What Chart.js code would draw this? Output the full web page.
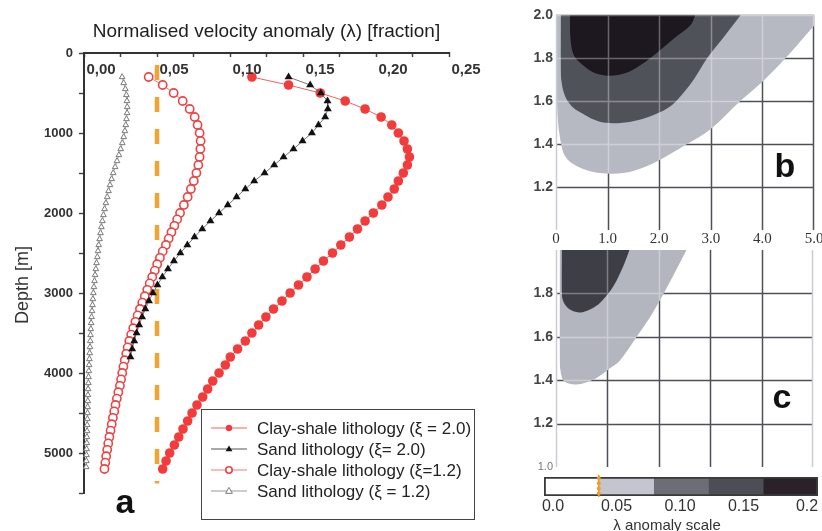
<!DOCTYPE html>
<html>
<head>
<meta charset="utf-8">
<script src="https://cdn.jsdelivr.net/npm/chart.js@4.4.1/dist/chart.umd.min.js"></script>
<style>
  html, body { margin: 0; padding: 0; background: #fff; }
  #wrap { position: relative; width: 822px; height: 531px; overflow: hidden; background: #fff; }
  canvas { position: absolute; }
</style>
</head>
<body>
<div id="wrap">
  <canvas id="profile" width="500" height="531" style="left:0;top:0;width:500px;height:531px"></canvas>
  <canvas id="mapClay" width="307" height="245" style="left:515px;top:0;width:307px;height:245px"></canvas>
  <canvas id="mapSand" width="307" height="230" style="left:515px;top:245px;width:307px;height:230px"></canvas>
  <canvas id="scaleBar" width="307" height="61" style="left:515px;top:470px;width:307px;height:61px"></canvas>
</div>
<script>
const SANS = "'Liberation Sans', Arial, Helvetica, sans-serif";
const SERIF = "'Liberation Serif', 'Times New Roman', serif";
Chart.defaults.font.family = SANS;
Chart.defaults.color = '#333';
Chart.defaults.animation = false;

/* ---------- (a) velocity anomaly profiles: depth [m] vs lambda ---------- */
const depthClayXi20 = [300,400,500,600,700,800,900,1000,1100,1200,1300,1400,1500,1600,1700,1800,1900,2000,
  2100,2200,2300,2400,2500,2600,2700,2800,2900,3000,3100,3200,3300,3400,3500,3600,3700,3800,3900,4000,
  4100,4200,4300,4400,4500,4600,4700,4800,4900,5000,5100,5200];
const clayXi20 = [0.1150,0.1401,0.1618,0.1789,0.1925,0.2035,0.2108,0.2153,0.2192,0.2215,0.2229,0.2215,0.2187,
  0.2153,0.2125,0.2082,0.2040,0.1982,0.1925,0.1873,0.1818,0.1759,0.1702,0.1640,0.1583,0.1527,0.1469,0.1412,
  0.1356,0.1298,0.1246,0.1196,0.1150,0.1105,0.1052,0.1002,0.0968,0.0925,0.0882,0.0847,0.0813,0.0774,0.0740,
  0.0710,0.0678,0.0649,0.0619,0.0587,0.0562,0.0539];

const depthSandXi20 = [300,400,500,600,700,800,900,1000,1100,1200,1300,1400,1500,1600,1700,1800,1900,2000,
  2100,2200,2300,2400,2500,2600,2700,2800,2900,3000,3100,3200,3300,3400,3500,3600,3700,3800];
const sandXi20 = [0.1401,0.1549,0.1622,0.1668,0.1670,0.1652,0.1606,0.1561,0.1497,0.1435,0.1367,0.1303,0.1237,
  0.1166,0.1105,0.1045,0.0985,0.0925,0.0866,0.0810,0.0757,0.0708,0.0660,0.0616,0.0575,0.0537,0.0503,0.0472,
  0.0445,0.0420,0.0398,0.0378,0.0360,0.0344,0.0330,0.0318];

const depthClayXi12 = [300,400,500,600,700,800,900,1000,1100,1200,1300,1400,1500,1600,1700,1800,1900,2000,
  2080,2160,2240,2320,2400,2480,2560,2640,2720,2800,2880,2960,3040,3120,3200,3280,3360,3440,3520,3600,3680,
  3760,3840,3920,4000,4080,4160,4240,4320,4400,4480,4560,4640,4720,4800,4880,4960,5040,5120,5200];
const clayXi12 = [0.0443,0.0539,0.0614,0.0676,0.0724,0.0758,0.0778,0.0792,0.0799,0.0797,0.0792,0.0783,0.0770,
  0.0752,0.0732,0.0710,0.0684,0.0658,0.0638,0.0619,0.0599,0.0580,0.0561,0.0539,0.0520,0.0501,0.0485,0.0467,
  0.0450,0.0433,0.0416,0.0399,0.0383,0.0367,0.0352,0.0337,0.0323,0.0310,0.0299,0.0289,0.0279,0.0270,0.0262,
  0.0254,0.0246,0.0235,0.0225,0.0216,0.0207,0.0198,0.0190,0.0182,0.0174,0.0166,0.0159,0.0152,0.0146,0.0140];

const depthSandXi12 = [300,375,450,525,600,675,750,825,900,975,1050,1125,1200,1275,1350,1425,1500,1575,1650,
  1725,1800,1875,1950,2025,2100,2175,2250,2325,2400,2475,2550,2625,2700,2775,2850,2925,3000,3075,3150,3225,
  3300,3375,3450,3525,3600,3675,3750,3825,3900,3975,4050,4125,4200,4275,4350,4425,4500,4575,4650,4725,4800,
  4875,4950,5025,5100,5175];
const sandXi12 = [0.0261,0.0272,0.0283,0.0290,0.0294,0.0296,0.0295,0.0291,0.0286,0.0280,0.0272,0.0262,0.0251,
  0.0239,0.0226,0.0213,0.0200,0.0189,0.0178,0.0168,0.0159,0.0150,0.0141,0.0133,0.0126,0.0119,0.0113,0.0107,
  0.0101,0.0096,0.0091,0.0086,0.0081,0.0076,0.0072,0.0068,0.0064,0.0061,0.0058,0.0055,0.0052,0.0049,0.0047,
  0.0045,0.0043,0.0041,0.0039,0.0037,0.0035,0.0033,0.0031,0.0030,0.0028,0.0027,0.0026,0.0025,0.0024,0.0023,
  0.0022,0.0021,0.0020,0.0019,0.0018,0.0017,0.0016,0.0015];

const thresholdLambda = 0.05;
const thresholdDepths = [150, 5380];

const lambdaTickLabels = ['0,00', '0,05', '0,10', '0,15', '0,20', '0,25'];
const depthTickLabels = ['0', '1000', '2000', '3000', '4000', '5000'];

/* ---------- (b) clay-shale and (c) sand: lambda contours over depth [km] x xi ---------- */
const gridDepthKm = [1, 2, 3, 4, 5];
const gridXi = [1.2, 1.4, 1.6, 1.8, 2.0];

// clay-shale, lowest contour (light)
const clayLowDepth = [0.02,0.02,0.04,0.07,0.10,0.15,0.27,0.47,0.70,0.90,1.10,1.50,2.00,2.54,3.00,3.57,4.00,4.45,5.00];
const clayLowXi    = [2.00,1.60,1.50,1.44,1.40,1.355,1.318,1.29,1.271,1.264,1.262,1.275,1.325,1.40,1.47,1.60,1.69,1.80,1.95];
// clay-shale, middle contour
const clayMidDepth = [0.09,0.09,0.12,0.20,0.33,0.53,0.72,0.92,1.25,1.60,1.89,2.15,2.35,2.67,2.93,3.26,3.58];
const clayMidXi    = [2.00,1.75,1.67,1.61,1.57,1.54,1.515,1.50,1.498,1.512,1.535,1.565,1.605,1.70,1.80,1.90,2.00];
// clay-shale, highest contour (darkest)
const clayHighDepth = [0.27,0.28,0.35,0.53,0.75,0.99,1.20,1.44,1.83,2.28,2.61,2.70];
const clayHighXi    = [2.00,1.89,1.81,1.765,1.73,1.718,1.721,1.738,1.80,1.89,1.953,2.00];

// sand, lowest contour (light)
const sandLowDepth = [0.07,0.07,0.09,0.14,0.25,0.40,0.60,0.75,0.91,1.05,1.24,1.57,1.88,2.21,2.54];
const sandLowXi    = [2.00,1.50,1.44,1.40,1.385,1.38,1.39,1.405,1.43,1.455,1.49,1.60,1.71,1.85,2.00];
// sand, upper contour (dark)
const sandHighDepth = [0.11,0.11,0.17,0.30,0.47,0.65,0.80,0.91,1.05,1.18,1.30,1.43];
const sandHighXi    = [2.00,1.80,1.75,1.722,1.712,1.725,1.745,1.77,1.81,1.86,1.92,2.00];

/* ---------- lambda anomaly colour scale ---------- */
const scaleLevels = [0, 0.04, 0.08, 0.12, 0.16, 0.2];
const scaleColors = ['#ffffff', '#c3c6ce', '#6c6e76', '#4d4d55', '#2a2228'];
const scaleTickValues = [0, 0.05, 0.10, 0.15, 0.2];
const scaleTickLabels = ['0.0', '0.05', '0.10', '0.15', '0.2'];
const scaleMarkerLevel = 0.04;

const pts = (xs, ys) => xs.slice(0, Math.min(xs.length, ys.length)).map((x, i) => ({ x, y: ys[i] }));
const noPad = s => { s.paddingLeft = 0; s.paddingRight = 0; s.paddingTop = 0; s.paddingBottom = 0; };

function drawMarker(ctx, style, x, y, r, fill, stroke, lw) {
  ctx.beginPath();
  if (style === 'triangle') {
    ctx.moveTo(x, y - r);
    ctx.lineTo(x + r * 0.95, y + r * 0.65);
    ctx.lineTo(x - r * 0.95, y + r * 0.65);
    ctx.closePath();
  } else {
    ctx.arc(x, y, r, 0, Math.PI * 2);
  }
  ctx.fillStyle = fill;
  ctx.fill();
  if (lw) { ctx.lineWidth = lw; ctx.strokeStyle = stroke; ctx.stroke(); }
}

// free text (panel letters, rotated axis name, scale caption)
function textPlugin(items) {
  return {
    id: 'textMarks',
    afterDraw(chart) {
      const ctx = chart.ctx;
      items.forEach(t => {
        ctx.save();
        ctx.translate(t.x, t.y);
        if (t.rotate) ctx.rotate(t.rotate);
        ctx.font = t.font;
        ctx.fillStyle = t.color || '#222';
        ctx.textAlign = t.align || 'center';
        ctx.textBaseline = t.baseline || 'middle';
        ctx.fillText(t.text, 0, 0);
        ctx.restore();
      });
    }
  };
}

/* ================= panel a ================= */
// lambda tick labels sit just under the top axis, shifted right of their tick marks
const lambdaLabels = {
  id: 'lambdaLabels',
  afterDraw(chart) {
    const ctx = chart.ctx, xs = chart.scales.x;
    ctx.save();
    ctx.font = 'bold 15px ' + SANS;
    ctx.fillStyle = '#333';
    ctx.textAlign = 'center';
    ctx.textBaseline = 'middle';
    xs.ticks.forEach(t => {
      const k = Math.round(t.value / 0.025);
      if (k % 2) return;
      ctx.fillText(lambdaTickLabels[k / 2], xs.getPixelForValue(t.value) + 17, 70);
    });
    ctx.restore();
  }
};

const legendBox = {
  id: 'legendBox',
  afterDraw(chart) {
    const ctx = chart.ctx;
    const box = { x: 201, y: 409, w: 273, h: 110 };
    ctx.save();
    ctx.lineWidth = 1;
    ctx.strokeStyle = '#444';
    ctx.strokeRect(box.x + 0.5, box.y + 0.5, box.w, box.h);
    chart.data.datasets.filter(d => !d.hideInKey).forEach((ds, i) => {
      const y = 428 + i * 21;
      ctx.strokeStyle = ds.borderColor;
      ctx.lineWidth = 1;
      ctx.beginPath(); ctx.moveTo(211, y); ctx.lineTo(247, y); ctx.stroke();
      const r = ds.pointStyle === 'triangle' ? 3.6 : 3.2;
      drawMarker(ctx, ds.pointStyle, 229, y, r, ds.pointBackgroundColor, ds.pointBorderColor, ds.pointBorderWidth);
      ctx.fillStyle = '#222';
      ctx.font = '17px ' + SANS;
      ctx.textAlign = 'left';
      ctx.textBaseline = 'middle';
      ctx.fillText(ds.label, 257, y + 1);
    });
    ctx.restore();
  }
};

new Chart(document.getElementById('profile'), {
  type: 'scatter',
  data: {
    datasets: [
      {
        label: 'Clay-shale lithology (\u03BE = 2.0)',
        data: pts(clayXi20, depthClayXi20), showLine: true, order: 1,
        borderColor: '#ee6262', borderWidth: 1,
        pointStyle: 'circle', pointRadius: 4.8,
        pointBackgroundColor: '#f23b3b', pointBorderColor: '#f23b3b', pointBorderWidth: 0
      },
      {
        label: 'Sand lithology (\u03BE= 2.0)',
        data: pts(sandXi20, depthSandXi20), showLine: true, order: 0,
        borderColor: '#555', borderWidth: 0.8,
        pointStyle: 'triangle', pointRadius: 4.6,
        pointBackgroundColor: '#111', pointBorderColor: '#111', pointBorderWidth: 0
      },
      {
        label: 'Clay-shale lithology (\u03BE=1.2)',
        data: pts(clayXi12, depthClayXi12), showLine: true, order: 2,
        borderColor: '#f07a7a', borderWidth: 1,
        pointStyle: 'circle', pointRadius: 4.1,
        pointBackgroundColor: '#ffffff', pointBorderColor: '#ec4444', pointBorderWidth: 1.6
      },
      {
        label: 'Sand lithology (\u03BE = 1.2)',
        data: pts(sandXi12, depthSandXi12), showLine: true, order: 3,
        borderColor: '#9a9a9a', borderWidth: 0.8,
        pointStyle: 'triangle', pointRadius: 3.3,
        pointBackgroundColor: '#ffffff', pointBorderColor: '#7a7a7a', pointBorderWidth: 1
      },
      {
        label: 'threshold',
        hideInKey: true,
        data: thresholdDepths.map(d => ({ x: thresholdLambda, y: d })),
        showLine: true, order: 10,
        borderColor: '#f5a232', borderWidth: 4.5, borderDash: [15, 17],
        pointRadius: 0
      }
    ]
  },
  options: {
    responsive: false,
    animation: false,
    layout: { padding: { left: 0, top: 0, right: 51, bottom: 38 } },
    elements: { line: { tension: 0 } },
    datasets: { scatter: { clip: 8 } },
    plugins: { legend: { display: false }, tooltip: { enabled: false } },
    scales: {
      x: {
        type: 'linear', position: 'top', min: 0, max: 0.25,
        afterFit: s => { s.height = 53; noPad(s); },
        title: {
          display: true, text: 'Normalised velocity anomaly (\u03BB) [fraction]',
          font: { size: 19 }, color: '#1e1e1e', padding: { top: 20, bottom: 0 }
        },
        border: { display: true, color: '#333', width: 2 },
        grid: { drawOnChartArea: false, drawTicks: true, tickLength: -4, tickColor: '#444', tickWidth: 1.5 },
        ticks: { stepSize: 0.025, autoSkip: false, display: false }
      },
      y: {
        type: 'linear', reverse: true, min: 0, max: 5500,
        afterFit: s => { s.width = 84; noPad(s); },
        border: { display: true, color: '#333', width: 2 },
        grid: { drawOnChartArea: false, drawTicks: true, tickLength: 5, tickColor: '#444', tickWidth: 1.5 },
        ticks: {
          stepSize: 500, autoSkip: false, padding: 6,
          font: { size: 13, weight: 'bold' }, color: '#333',
          callback: v => (v % 1000 === 0 ? depthTickLabels[v / 1000] : '')
        }
      }
    }
  },
  plugins: [lambdaLabels, legendBox, textPlugin([
    { text: 'Depth [m]', x: 23, y: 285, rotate: -Math.PI / 2, font: '18px ' + SANS, color: '#333' },
    { text: 'a', x: 125, y: 513, baseline: 'alphabetic', font: 'bold 34px ' + SANS, color: '#111' }
  ])]
});

/* ================= panels b and c ================= */
// grid: light lines over the filled contours, dark lines over the empty field
function contourGrid(xLines, yLines, rightEdgeLight) {
  return {
    id: 'contourGrid',
    afterDatasetsDraw(chart) {
      const { ctx, chartArea: a, scales: { x, y } } = chart;
      const path = () => {
        ctx.beginPath();
        xLines.forEach(v => {
          const px = Math.min(Math.round(x.getPixelForValue(v)) + 0.5, a.right - 0.5);
          ctx.moveTo(px, a.top); ctx.lineTo(px, a.bottom);
        });
        yLines.forEach(v => {
          const py = Math.max(Math.round(y.getPixelForValue(v)) + 0.5, a.top + 0.5);
          ctx.moveTo(a.left, py); ctx.lineTo(a.right, py);
        });
      };
      ctx.save();
      ctx.lineWidth = 1.5;
      ctx.globalCompositeOperation = 'source-atop';
      ctx.strokeStyle = 'rgba(255,255,255,0.33)';
      path(); ctx.stroke();
      ctx.globalCompositeOperation = 'destination-over';
      ctx.strokeStyle = '#4e5058';
      path(); ctx.stroke();
      ctx.globalCompositeOperation = 'source-over';
      ctx.strokeStyle = '#c9ccd3';
      ctx.beginPath();
      ctx.moveTo(a.left + 0.5, a.top); ctx.lineTo(a.left + 0.5, a.bottom);
      if (rightEdgeLight) { ctx.moveTo(a.right - 0.5, a.top); ctx.lineTo(a.right - 0.5, a.bottom); }
      ctx.stroke();
      ctx.restore();
    }
  };
}

function contourDatasets(regions) {
  return regions.map((r, i) => ({
    data: pts(r.x, r.y), showLine: true, fill: 'end',
    backgroundColor: r.color, borderWidth: 0, borderColor: 'rgba(0,0,0,0)',
    pointRadius: 0, tension: 0.35, order: regions.length - i
  }));
}

new Chart(document.getElementById('mapClay'), {
  type: 'scatter',
  data: {
    datasets: contourDatasets([
      { x: clayLowDepth, y: clayLowXi, color: '#b6b9c2' },
      { x: clayMidDepth, y: clayMidXi, color: '#50525a' },
      { x: clayHighDepth, y: clayHighXi, color: '#1d1820' }
    ])
  },
  options: {
    responsive: false,
    animation: false,
    layout: { padding: { left: 0, top: 15, right: 8, bottom: 0 } },
    plugins: { legend: { display: false }, tooltip: { enabled: false } },
    scales: {
      x: {
        type: 'linear', min: 0, max: 5,
        afterFit: s => { s.height = 15; noPad(s); },
        grid: { display: false, drawTicks: false }, border: { display: false },
        ticks: {
          stepSize: 1, padding: 0, autoSkip: false, maxRotation: 0,
          font: { family: SERIF, size: 15 }, color: '#333',
          callback: v => (v === 0 ? '0' : v.toFixed(1))
        }
      },
      y: {
        type: 'linear', min: 1, max: 2,
        afterFit: s => { s.width = 41; noPad(s); },
        grid: { display: false, drawTicks: false }, border: { display: false },
        ticks: {
          stepSize: 0.2, padding: 3, autoSkip: false,
          font: { size: 14, weight: 'bold' }, color: '#444',
          callback: v => (v < 1.1 ? '' : v.toFixed(1))
        }
      }
    }
  },
  plugins: [contourGrid(gridDepthKm, gridXi, false), textPlugin([
    { text: 'b', x: 270, y: 177, baseline: 'alphabetic', font: 'bold 34px ' + SANS, color: '#111' }
  ])]
});

new Chart(document.getElementById('mapSand'), {
  type: 'scatter',
  data: {
    datasets: contourDatasets([
      { x: sandLowDepth, y: sandLowXi, color: '#b3b6bf' },
      { x: sandHighDepth, y: sandHighXi, color: '#3d3e46' }
    ])
  },
  options: {
    responsive: false,
    animation: false,
    layout: { padding: { left: 0, top: 5, right: 9, bottom: 8 } },
    plugins: { legend: { display: false }, tooltip: { enabled: false } },
    scales: {
      x: { type: 'linear', min: 0, max: 5, display: false },
      y: {
        type: 'linear', min: 1, max: 2,
        afterFit: s => { s.width = 41; noPad(s); },
        grid: { display: false, drawTicks: false }, border: { display: false },
        ticks: {
          stepSize: 0.2, padding: 3, autoSkip: false,
          font: c => (c.tick && c.tick.value < 1.1 ? { size: 11 } : { size: 14, weight: 'bold' }),
          color: c => (c.tick && c.tick.value < 1.1 ? '#777' : '#444'),
          callback: v => (v > 1.95 ? '' : v.toFixed(1))
        }
      }
    }
  },
  plugins: [contourGrid(gridDepthKm.slice(0, 4), gridXi.slice(0, 4), true), textPlugin([
    { text: 'c', x: 267, y: 163, baseline: 'alphabetic', font: 'bold 34px ' + SANS, color: '#111' }
  ])]
});

/* ================= colour scale ================= */
const markerPlugin = {
  id: 'scaleMarker',
  afterDatasetsDraw(chart) {
    const { ctx, chartArea: a, scales: { x } } = chart;
    const px = x.getPixelForValue(scaleMarkerLevel);
    ctx.save();
    ctx.strokeStyle = '#f39a2c';
    ctx.lineWidth = 1.6;
    ctx.beginPath(); ctx.moveTo(px, a.top - 2); ctx.lineTo(px, a.bottom + 1); ctx.stroke();
    ctx.fillStyle = '#f39a2c';
    for (let yy = a.top + 1; yy <= a.bottom; yy += 5.2) {
      ctx.beginPath(); ctx.arc(px, yy, 2, 0, Math.PI * 2); ctx.fill();
    }
    ctx.restore();
  }
};

const bandSets = scaleColors.map((c, i) => ({
  data: [[scaleLevels[i], scaleLevels[i + 1]]],
  backgroundColor: c, borderWidth: 0, grouped: false,
  barPercentage: 1, categoryPercentage: 1, xAxisID: 'x', order: 1
}));
bandSets.push({
  data: [[scaleLevels[0], scaleLevels[scaleLevels.length - 1]]],
  backgroundColor: 'rgba(0,0,0,0)', borderColor: '#3a3a3a', borderWidth: 1.5, borderSkipped: false,
  grouped: false, barPercentage: 1, categoryPercentage: 1, xAxisID: 'x', order: -1
});

new Chart(document.getElementById('scaleBar'), {
  type: 'bar',
  data: { labels: ['\u03BB'], datasets: bandSets },
  options: {
    indexAxis: 'y',
    responsive: false,
    animation: false,
    layout: { padding: { left: 29, right: 4, top: 7, bottom: 0 } },
    plugins: { legend: { display: false }, tooltip: { enabled: false } },
    scales: {
      x: { type: 'linear', min: 0, max: 0.2, display: false },
      xl: {
        type: 'linear', position: 'bottom', min: -0.00709, max: 0.20866,
        afterFit: s => { s.height = 35; noPad(s); },
        afterBuildTicks: s => { s.ticks = scaleTickValues.map(v => ({ value: v })); },
        grid: { display: false, drawTicks: false }, border: { display: false },
        ticks: {
          padding: 1, autoSkip: false, maxRotation: 0,
          font: { size: 16 }, color: '#333',
          callback: (v, i) => scaleTickLabels[i]
        }
      },
      y: { display: false }
    }
  },
  plugins: [markerPlugin, textPlugin([
    { text: '\u03BB anomaly scale', x: 152, y: 56, font: '15px ' + SANS, color: '#333' }
  ])]
});
</script>
</body>
</html>
